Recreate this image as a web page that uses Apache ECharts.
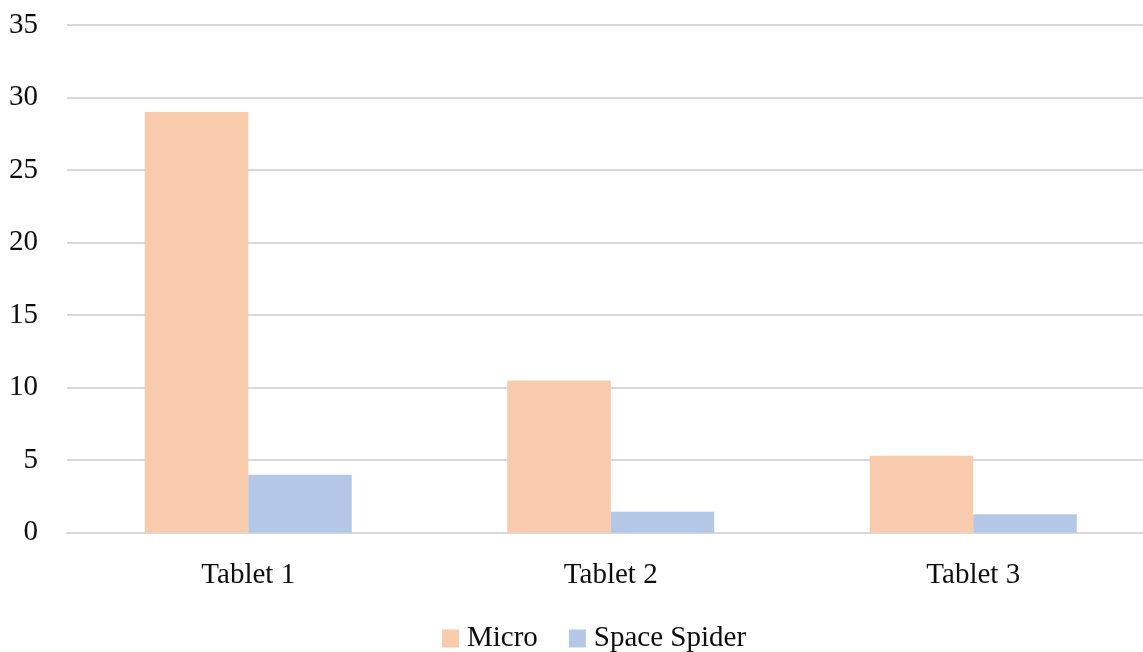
<!DOCTYPE html>
<html>
<head>
<meta charset="utf-8">
<script src="https://cdn.jsdelivr.net/npm/echarts@6/dist/echarts.min.js"></script>
<style>
  html, body { margin: 0; padding: 0; background: #fff; overflow: hidden; }
  /* plot runs a little past the right edge of the window */
  #chart { width: 1155px; height: 652px; }
</style>
</head>
<body>
<div id="chart"></div>
<script>
// Categories and series values
var categories = ['Tablet 1', 'Tablet 2', 'Tablet 3'];
var microValues = [29, 10.5, 5.3];
var spiderValues = [4, 1.45, 1.27];
var seriesNames = ['Micro', 'Space Spider'];

var FONT = '"Liberation Serif", "DejaVu Serif", serif';
var TEXT = '#0d0d0d';
var GRID = '#d9d9d9';

var chart = echarts.init(document.getElementById('chart'), null, { renderer: 'canvas' });

chart.setOption({
  animation: false,
  backgroundColor: '#ffffff',
  textStyle: { fontFamily: FONT },
  grid: { left: 67, right: 0.5, top: 25, bottom: 119.3, containLabel: false },
  legend: {
    data: seriesNames,
    left: 442,
    top: 624,
    padding: 0,
    itemWidth: 17,
    itemHeight: 18,
    itemGap: 31,
    icon: 'rect',
    textStyle: { fontFamily: FONT, fontSize: 29, color: TEXT, padding: [0, 0, 0, 3] }
  },
  xAxis: {
    type: 'category',
    data: categories,
    axisLine: { show: true, lineStyle: { color: GRID, width: 2 } },
    axisTick: { show: false },
    axisLabel: { fontFamily: FONT, fontSize: 29, color: TEXT, margin: 28 }
  },
  yAxis: {
    type: 'value',
    min: 0,
    max: 35,
    interval: 5,
    axisLine: { show: false },
    axisTick: { show: false },
    axisLabel: { fontFamily: FONT, fontSize: 29, color: TEXT, margin: 29 },
    splitLine: { lineStyle: { color: GRID, width: 2 } }
  },
  series: [
    {
      name: seriesNames[0],
      type: 'bar',
      data: microValues,
      barWidth: 103.5,
      barGap: '0%',
      itemStyle: { color: '#f7cbac' }
    },
    {
      name: seriesNames[1],
      type: 'bar',
      data: spiderValues,
      barWidth: 103.5,
      barGap: '0%',
      itemStyle: { color: '#b4c7e7' }
    }
  ]
});
</script>
</body>
</html>
